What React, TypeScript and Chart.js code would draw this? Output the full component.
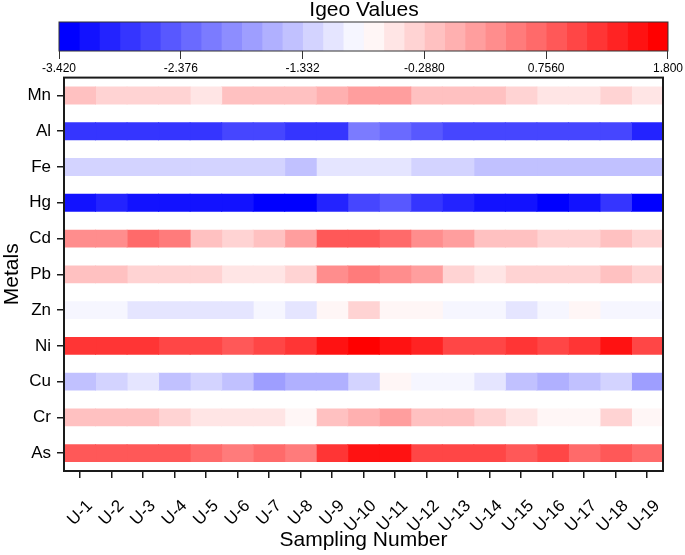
import React, { useEffect, useRef } from "react";
import { Chart, registerables } from "chart.js";

Chart.register(...registerables);

// ---------- data ----------
const metals = ["Mn", "Al", "Fe", "Hg", "Cd", "Pb", "Zn", "Ni", "Cu", "Cr", "As"];
const samples = [
  "U-1", "U-2", "U-3", "U-4", "U-5", "U-6", "U-7", "U-8", "U-9", "U-10",
  "U-11", "U-12", "U-13", "U-14", "U-15", "U-16", "U-17", "U-18", "U-19",
];

const mnIgeo = [-0.2, -0.38, -0.36, -0.39, -0.55, -0.21, -0.19, -0.22, -0.03, 0.15, 0.17, -0.2, -0.18, -0.22, -0.37, -0.54, -0.56, -0.38, -0.55];
const alIgeo = [-2.81, -2.8, -2.82, -2.81, -2.79, -2.64, -2.62, -2.81, -2.83, -2.12, -2.29, -2.46, -2.65, -2.63, -2.64, -2.62, -2.66, -2.64, -2.99];
const feIgeo = [-1.25, -1.24, -1.26, -1.25, -1.23, -1.26, -1.24, -1.42, -1.07, -1.06, -1.08, -1.25, -1.24, -1.42, -1.41, -1.43, -1.42, -1.4, -1.43];
const hgIgeo = [-3.16, -2.99, -3.15, -3.17, -3.16, -3.18, -3.33, -3.35, -2.98, -2.64, -2.46, -2.81, -3.0, -3.16, -3.15, -3.34, -3.17, -2.8, -3.36];
const cdIgeo = [0.32, 0.3, 0.67, 0.5, -0.2, -0.38, -0.21, 0.15, 0.84, 0.86, 0.66, 0.33, 0.14, -0.19, -0.21, -0.37, -0.39, -0.18, -0.38];
const pbIgeo = [-0.19, -0.21, -0.37, -0.38, -0.36, -0.55, -0.54, -0.38, 0.32, 0.5, 0.31, 0.16, -0.36, -0.55, -0.38, -0.37, -0.39, -0.2, -0.37];
const znIgeo = [-0.9, -0.89, -1.07, -1.06, -1.08, -1.07, -0.91, -1.06, -0.72, -0.38, -0.73, -0.71, -0.9, -0.89, -1.07, -0.91, -0.72, -0.9, -0.89];
const niIgeo = [1.19, 1.2, 1.18, 1.02, 1.01, 0.84, 1.03, 1.19, 1.54, 1.71, 1.55, 1.37, 1.02, 1.0, 1.19, 1.03, 1.18, 1.53, 1.02];
const cuIgeo = [-1.42, -1.25, -1.07, -1.41, -1.24, -1.43, -1.77, -1.59, -1.6, -1.25, -0.72, -0.9, -0.89, -1.07, -1.42, -1.58, -1.41, -1.24, -1.78];
const crIgeo = [-0.2, -0.21, -0.19, -0.38, -0.55, -0.54, -0.56, -0.72, -0.2, -0.03, 0.15, -0.21, -0.19, -0.37, -0.55, -0.73, -0.71, -0.36, -0.72];
const asIgeo = [0.84, 0.85, 0.83, 0.86, 0.67, 0.5, 0.66, 0.49, 1.19, 1.54, 1.55, 1.02, 1.01, 1.03, 0.84, 1.02, 0.67, 0.85, 0.66];

const igeoRows = [mnIgeo, alIgeo, feIgeo, hgIgeo, cdIgeo, pbIgeo, znIgeo, niIgeo, cuIgeo, crIgeo, asIgeo];

const igeoMin = -3.42;
const igeoMax = 1.8;
const colorSteps = 30;
const colorbarTickValues = [-3.42, -2.376, -1.332, -0.288, 0.756, 1.8];
const colorbarTickLabels = ["-3.420", "-2.376", "-1.332", "-0.2880", "0.7560", "1.800"];

// ---------- colour scale ----------
const stepWidth = (igeoMax - igeoMin) / colorSteps;
function stepColor(k: number): string {
  const half = (colorSteps - 1) / 2;
  if (k <= half) {
    const v = Math.round((255 * k) / half);
    return `rgb(${v},${v},255)`;
  }
  const v = Math.round((255 * (colorSteps - 1 - k)) / half);
  return `rgb(255,${v},${v})`;
}
function igeoColor(v: number): string {
  let k = Math.floor((v - igeoMin) / stepWidth);
  if (k < 0) k = 0;
  if (k > colorSteps - 1) k = colorSteps - 1;
  return stepColor(k);
}

const FONT = "'Liberation Sans', Arial, Helvetica, sans-serif";
const AXIS = "#1a1a1a";

const framePlugin = {
  id: "frame",
  afterDatasetsDraw(chart: any, _args: any, opts: any) {
    const { ctx, chartArea: a } = chart;
    ctx.save();
    ctx.strokeStyle = opts.color || AXIS;
    ctx.lineWidth = opts.width || 1;
    ctx.strokeRect(a.left, a.top, a.right - a.left, a.bottom - a.top);
    ctx.restore();
  },
};

export default function App() {
  const mainRef = useRef<HTMLCanvasElement | null>(null);
  const barRef = useRef<HTMLCanvasElement | null>(null);

  useEffect(() => {
    if (!mainRef.current || !barRef.current) return;

    const main = new Chart(mainRef.current, {
      type: "bar",
      data: {
        labels: metals,
        datasets: samples.map((s, j) => ({
          label: s,
          data: metals.map(() => [j, j + 1]),
          backgroundColor: igeoRows.map((row) => igeoColor(row[j])),
          borderWidth: 0,
          inflateAmount: 0.5,
          grouped: false,
          categoryPercentage: 1,
          barPercentage: 0.47,
        })),
      } as any,
      options: {
        indexAxis: "y",
        responsive: false,
        animation: false,
        layout: { padding: { top: 77.6, right: 22, left: 0, bottom: 0 } },
        plugins: {
          legend: { display: false },
          tooltip: { enabled: false },
          frame: { color: AXIS, width: 2 },
        } as any,
        scales: {
          x: {
            type: "linear",
            min: 0,
            max: samples.length,
            afterBuildTicks: (axis: any) => {
              axis.ticks = samples.map((_, j) => ({ value: j + 0.5 }));
            },
            afterFit: (scale: any) => {
              scale.height = 84;
            },
            ticks: {
              autoSkip: false,
              minRotation: 45,
              maxRotation: 45,
              padding: 18,
              labelOffset: 10,
              color: "#000",
              font: { family: FONT, size: 17 },
              callback: (_v: any, i: number) => samples[i],
            },
            grid: {
              drawOnChartArea: false,
              drawTicks: true,
              tickLength: 7,
              color: AXIS,
              lineWidth: 1.5,
            },
            border: { display: true, color: AXIS, width: 2 },
            title: {
              display: true,
              text: "Sampling Number",
              color: "#000",
              font: { family: FONT, size: 21, lineHeight: 1.2 },
              padding: { top: 0, bottom: 2 },
            },
          },
          y: {
            type: "category",
            afterFit: (scale: any) => {
              scale.width = 64;
            },
            ticks: {
              padding: 6,
              color: "#000",
              font: { family: FONT, size: 17 },
            },
            grid: {
              offset: false,
              drawOnChartArea: false,
              drawTicks: true,
              tickLength: 7,
              color: AXIS,
              lineWidth: 1.5,
            },
            border: { display: true, color: AXIS, width: 2 },
            title: {
              display: true,
              text: "Metals",
              color: "#000",
              font: { family: FONT, size: 21, lineHeight: 1.2 },
              padding: { top: 0, bottom: 0 },
            },
          },
        },
      } as any,
      plugins: [framePlugin],
    });

    const bar = new Chart(barRef.current, {
      type: "bar",
      data: {
        labels: ["Igeo"],
        datasets: Array.from({ length: colorSteps }, (_, k) => ({
          label: String(k),
          data: [[igeoMin + k * stepWidth, igeoMin + (k + 1) * stepWidth]],
          backgroundColor: stepColor(k),
          borderWidth: 0,
          grouped: false,
          categoryPercentage: 1,
          barPercentage: 1,
        })),
      } as any,
      options: {
        indexAxis: "y",
        responsive: false,
        animation: false,
        layout: { padding: { top: 0, right: 16, left: 59, bottom: 0 } },
        plugins: {
          legend: { display: false },
          tooltip: { enabled: false },
          title: {
            display: true,
            text: "Igeo Values",
            color: "#000",
            font: { family: FONT, size: 21, lineHeight: 1.0, weight: "normal" },
            padding: { top: 0, bottom: 1 },
          },
          frame: { color: "#333", width: 1 },
        } as any,
        scales: {
          x: {
            type: "linear",
            min: igeoMin,
            max: igeoMax,
            afterBuildTicks: (axis: any) => {
              axis.ticks = colorbarTickValues.map((v) => ({ value: v }));
            },
            afterFit: (scale: any) => {
              scale.height = 25;
            },
            ticks: {
              autoSkip: false,
              maxRotation: 0,
              minRotation: 0,
              padding: 2,
              color: "#000",
              font: { family: FONT, size: 12 },
              callback: (_v: any, i: number) => colorbarTickLabels[i],
            },
            grid: {
              drawOnChartArea: false,
              drawTicks: true,
              tickLength: 8,
              color: "#333",
              lineWidth: 1,
            },
            border: { display: false },
          },
          y: { display: false },
        },
      } as any,
      plugins: [framePlugin],
    });

    return () => {
      main.destroy();
      bar.destroy();
    };
  }, []);

  return (
    <div style={{ position: "fixed", left: 0, top: 0, width: 685, height: 555, background: "#fff" }}>
      <canvas ref={mainRef} width={685} height={555} style={{ position: "absolute", left: 0, top: 0 }} />
      <canvas ref={barRef} width={685} height={76} style={{ position: "absolute", left: 0, top: 0 }} />
    </div>
  );
}
